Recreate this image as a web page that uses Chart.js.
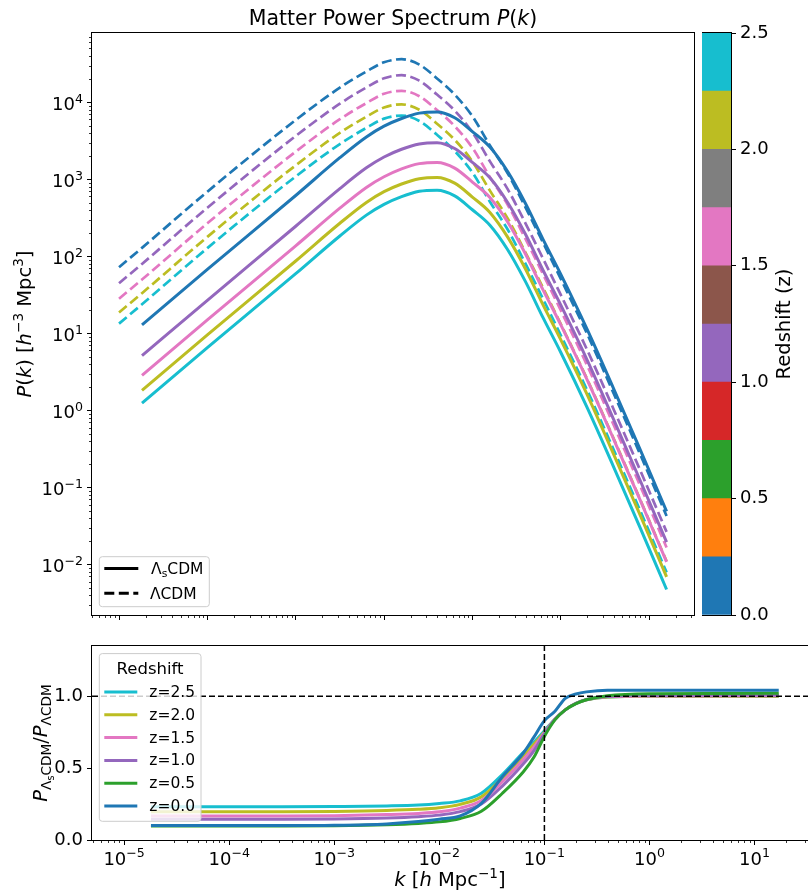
<!DOCTYPE html>
<html>
<head>
<meta charset="utf-8">
<script src="https://cdn.jsdelivr.net/npm/chart.js@4.4.0/dist/chart.umd.min.js"></script>
<style>
html, body { margin: 0; padding: 0; background: #fff; }
#wrap { position: relative; width: 808px; height: 895px; overflow: hidden; }
canvas { position: absolute; }
</style>
</head>
<body>
<div id="wrap">
  <canvas id="topChart" width="700" height="630" style="left:0px;top:0px"></canvas>
  <canvas id="cbarChart" width="106" height="630" style="left:702px;top:0px"></canvas>
  <canvas id="ratioChart" width="808" height="265" style="left:0px;top:630px"></canvas>
</div>
<script>
const FONT = "'DejaVu Sans', 'Liberation Sans', sans-serif";
Chart.defaults.font.family = FONT;
Chart.defaults.color = "#000";

// ---- top panel: P(k) ----
const kDashed = [1e-5, 1.82e-5, 1e-4, 1e-3, 3.16e-3, 6.31e-3, 0.01, 0.0158, 0.0251, 0.0398, 0.0631, 0.1, 0.158, 0.251, 0.398, 0.631, 1, 2.0, 3.98, 7.94, 15.8];
const kSolid = [1.82e-5, 1e-4, 1e-3, 3.16e-3, 6.31e-3, 0.01, 0.0158, 0.0251, 0.0398, 0.0631, 0.1, 0.158, 0.251, 0.398, 0.631, 1, 2.0, 3.98, 7.94, 15.8];
const topColors = ["#1f77b4", "#9467bd", "#e377c2", "#bcbd22", "#17becf"];

// LambdaCDM (dashed)
const lcdmBlue   = [72.4, 129, 692, 5890, 15500, 25100, 33100, 36300, 30900, 20400, 12600, 6610, 2750, 1200, 437, 151, 51.3, 9.77, 1.66, 0.269, 0.0427];
const lcdmPurple = [44.8, 79.8, 428, 3650, 9590, 15600, 20500, 22500, 19100, 12600, 7800, 4090, 1710, 745, 271, 93.5, 31.8, 6.05, 1.03, 0.167, 0.0265];
const lcdmPink   = [28.2, 50.1, 269, 2290, 6030, 9770, 12900, 14100, 12000, 7940, 4900, 2570, 1070, 468, 170, 58.7, 20.0, 3.80, 0.646, 0.105, 0.0166];
const lcdmOlive  = [18.7, 33.3, 179, 1520, 4010, 6500, 8570, 9400, 8000, 5280, 3260, 1710, 713, 311, 113, 39.1, 13.3, 2.53, 0.43, 0.0696, 0.011];
const lcdmCyan   = [13.4, 23.9, 128, 1090, 2870, 4660, 6140, 6730, 5730, 3790, 2330, 1230, 511, 223, 81.0, 28.0, 9.51, 1.81, 0.308, 0.0499, 0.0079];

// Lambda_s CDM (solid)
const lscdmBlue   = [12.9, 67.6, 617, 1910, 3550, 4900, 6170, 7240, 7500, 6310, 4170, 2630, 1260, 490, 166, 58.9, 11.2, 1.91, 0.309, 0.049];
const lscdmPurple = [5.13, 26.9, 246, 758, 1410, 1950, 2460, 2880, 2990, 2510, 1660, 1050, 501, 195, 66.1, 23.4, 4.47, 0.758, 0.123, 0.0195];
const lscdmPink   = [2.85, 15.0, 137, 422, 785, 1080, 1370, 1600, 1660, 1400, 923, 582, 279, 108, 36.7, 13.0, 2.48, 0.422, 0.0684, 0.0108];
const lscdmOlive  = [1.82, 9.55, 87.1, 269, 501, 692, 871, 1020, 1060, 892, 589, 372, 178, 69.2, 23.5, 8.32, 1.59, 0.269, 0.0437, 0.00692];
const lscdmCyan   = [1.24, 6.53, 59.6, 184, 343, 473, 596, 700, 724, 610, 403, 254, 122, 47.3, 16.0, 5.69, 1.08, 0.184, 0.0298, 0.00473];

// ---- bottom panel: ratio ----
const kRatio = [1.8e-5, 3.16e-4, 1e-3, 3.16e-3, 6.31e-3, 0.01, 0.0158, 0.0251, 0.0398, 0.0631, 0.0794, 0.1, 0.126, 0.158, 0.2, 0.251, 0.398, 1, 17];
const zRatio = ["2.5", "2.0", "1.5", "1.0", "0.5", "0.0"];
const ratioColors = ["#17becf", "#bcbd22", "#e377c2", "#9467bd", "#2ca02c", "#1f77b4"];
const ratioZ25 = [0.231, 0.231, 0.233, 0.237, 0.243, 0.254, 0.272, 0.325, 0.455, 0.61, 0.68, 0.76, 0.84, 0.905, 0.95, 0.975, 0.995, 1.0, 1.0];
const ratioZ20 = [0.197, 0.197, 0.199, 0.205, 0.213, 0.224, 0.248, 0.30, 0.43, 0.585, 0.665, 0.75, 0.84, 0.905, 0.95, 0.975, 0.995, 1.0, 1.0];
const ratioZ15 = [0.167, 0.167, 0.169, 0.177, 0.185, 0.196, 0.222, 0.275, 0.405, 0.56, 0.645, 0.745, 0.84, 0.905, 0.95, 0.975, 0.997, 1.002, 1.003];
const ratioZ10 = [0.144, 0.144, 0.146, 0.153, 0.162, 0.173, 0.197, 0.25, 0.375, 0.53, 0.62, 0.74, 0.84, 0.905, 0.95, 0.977, 0.998, 1.005, 1.008];
const ratioZ05 = [0.097, 0.097, 0.099, 0.106, 0.115, 0.126, 0.15, 0.20, 0.325, 0.475, 0.575, 0.72, 0.835, 0.905, 0.948, 0.975, 1.003, 1.017, 1.02];
const ratioZ00 = [0.100, 0.100, 0.102, 0.112, 0.128, 0.145, 0.168, 0.255, 0.44, 0.605, 0.715, 0.83, 0.895, 0.985, 1.015, 1.03, 1.042, 1.042, 1.042];
const refRatio = 1.0;
const refK = 0.1;

// ---- axes / colorbar ----
const kMin = Math.pow(10, -5.306), kMax = Math.pow(10, 1.509);
const pMin = Math.pow(10, -2.656), pMax = Math.pow(10, 4.9);
const kTicks = [1e-5, 1e-4, 1e-3, 1e-2, 1e-1, 1, 10];
const pTicks = [1e-2, 1e-1, 1, 10, 100, 1e3, 1e4];
const ratioTicks = [0, 0.5, 1.0];
const cbBounds = [0, 0.25, 0.5, 0.75, 1.0, 1.25, 1.5, 1.75, 2.0, 2.25, 2.5];
const cbColors = ["#1f77b4", "#ff7f0e", "#2ca02c", "#d62728", "#9467bd", "#8c564b", "#e377c2", "#7f7f7f", "#bcbd22", "#17becf"];
const cbTicks = [0, 0.5, 1.0, 1.5, 2.0, 2.5];

// "10" with a raised exponent, like mathtext
function drawPow(ctx, v, x, y, align, size) {
    const e = Math.round(Math.log10(v));
    const exp = (e < 0 ? "\u2212" : "") + Math.abs(e);
    ctx.save();
    ctx.fillStyle = "#000";
    ctx.textBaseline = "alphabetic";
    ctx.font = size + "px " + FONT;
    const w1 = ctx.measureText("10").width;
    ctx.font = (size * 0.7) + "px " + FONT;
    const w2 = ctx.measureText(exp).width;
    const x0 = align === "right" ? x - w1 - w2 : x - (w1 + w2) / 2;
    ctx.font = size + "px " + FONT;
    ctx.fillText("10", x0, y);
    ctx.font = (size * 0.7) + "px " + FONT;
    ctx.fillText(exp, x0 + w1, y - size * 0.42);
    ctx.restore();
}

// text with italics / super / subscripts, centred on (x, y)
function drawRich(ctx, parts, x, y, size, rotate) {
    ctx.save();
    ctx.translate(x, y);
    if (rotate) ctx.rotate(rotate);
    const base = size * 0.36;
    const pieces = parts.map(([t, st]) => {
        let s = size, dy = base;
        if (st.includes("sup")) { s = size * 0.7; dy = base - size * 0.4; }
        if (st.includes("sub")) { s = size * 0.7; dy = base + size * 0.22; }
        if (st.includes("ss")) { s = size * 0.5; dy = base + size * 0.36; }
        const font = (st.includes("i") ? "italic " : "") + s + "px " + FONT;
        ctx.font = font;
        return {t, font, dy, w: ctx.measureText(t).width};
    });
    let cx = -pieces.reduce((a, p) => a + p.w, 0) / 2;
    ctx.fillStyle = "#000";
    ctx.textBaseline = "alphabetic";
    pieces.forEach(p => { ctx.font = p.font; ctx.fillText(p.t, cx, p.dy); cx += p.w; });
    ctx.restore();
}

function roundBox(ctx, x, y, w, h, r) {
    ctx.beginPath();
    ctx.moveTo(x + r, y);
    ctx.arcTo(x + w, y, x + w, y + h, r);
    ctx.arcTo(x + w, y + h, x, y + h, r);
    ctx.arcTo(x, y + h, x, y, r);
    ctx.arcTo(x, y, x + w, y, r);
    ctx.closePath();
    ctx.fillStyle = "rgba(255,255,255,0.8)";
    ctx.fill();
    ctx.strokeStyle = "#cccccc";
    ctx.lineWidth = 1;
    ctx.stroke();
}

function drawSpines(chart) {
    const {ctx, chartArea: a} = chart;
    ctx.save();
    ctx.strokeStyle = "#000";
    ctx.lineWidth = 1;
    ctx.strokeRect(Math.round(a.left) - 0.5, Math.round(a.top) - 0.5, Math.round(a.right - a.left) + 1, Math.round(a.bottom - a.top) + 1);
    ctx.restore();
}

function minorTicks(chart, id, side) {
    const s = chart.scales[id], ctx = chart.ctx, a = chart.chartArea;
    ctx.save();
    ctx.strokeStyle = "#000";
    ctx.lineWidth = 0.8;
    for (let e = Math.floor(Math.log10(s.min)); e <= Math.ceil(Math.log10(s.max)); e++) {
        for (let m = 2; m <= 9; m++) {
            const v = m * Math.pow(10, e);
            if (v < s.min || v > s.max) continue;
            const p = Math.round(s.getPixelForValue(v)) + 0.5;
            ctx.beginPath();
            if (side === "x") { ctx.moveTo(p, a.bottom); ctx.lineTo(p, a.bottom + 3); }
            else { ctx.moveTo(a.left, p); ctx.lineTo(a.left - 3, p); }
            ctx.stroke();
        }
    }
    ctx.restore();
}

function lineSet(xs, ys, color, dashed, width) {
    return {
        data: xs.map((x, i) => ({x: x, y: ys[i]})),
        borderColor: color,
        borderWidth: width,
        borderDash: dashed ? [10, 4.5] : [],
        pointRadius: 0,
        pointHitRadius: 0,
        fill: false,
        cubicInterpolationMode: "monotone"
    };
}

function axisOpts(extra) {
    return Object.assign({
        grid: {display: true, drawOnChartArea: false, drawTicks: true, tickLength: 5, color: "#000", tickColor: "#000", tickWidth: 1},
        border: {display: false}
    }, extra);
}

// ---------- top chart ----------
const lcdmSets = [lcdmBlue, lcdmPurple, lcdmPink, lcdmOlive, lcdmCyan];
const lscdmSets = [lscdmBlue, lscdmPurple, lscdmPink, lscdmOlive, lscdmCyan];
const topDatasets = [];
lscdmSets.forEach((ys, i) => topDatasets.push(lineSet(kSolid, ys, topColors[i], false, 3)));
lcdmSets.forEach((ys, i) => topDatasets.push(lineSet(kDashed, ys, topColors[i], true, 2.7)));

const topDecor = {
    id: "topDecor",
    afterDatasetsDraw(chart) {
        const ctx = chart.ctx, a = chart.chartArea;
        drawSpines(chart);
        minorTicks(chart, "x", "x");
        minorTicks(chart, "y", "y");
        pTicks.forEach(v => drawPow(ctx, v, a.left - 9, chart.scales.y.getPixelForValue(v) + 8, "right", 18));
        // legend
        const lx = a.left + 7.3, ly = a.bottom - 58.3;
        roundBox(ctx, lx, ly, 110, 50, 3);
        ctx.save();
        ctx.strokeStyle = "#000";
        ctx.lineWidth = 3;
        ctx.beginPath(); ctx.moveTo(lx + 5, ly + 11.8); ctx.lineTo(lx + 39, ly + 11.8); ctx.stroke();
        ctx.setLineDash([10, 4.5]);
        ctx.beginPath(); ctx.moveTo(lx + 5, ly + 36.6); ctx.lineTo(lx + 39, ly + 36.6); ctx.stroke();
        ctx.restore();
        drawRich(ctx, [["\u039b", ""], ["s", "sub"], ["CDM", ""]], lx + 78, ly + 11.8, 15.5);
        drawRich(ctx, [["\u039bCDM", ""]], lx + 74, ly + 36.6, 15.5);
        // title and y label
        drawRich(ctx, [["Matter Power Spectrum ", ""], ["P", "i"], ["(", ""], ["k", "i"], [")", ""]], (a.left + a.right) / 2, 18, 20.5);
        drawRich(ctx, [["P", "i"], ["(", ""], ["k", "i"], [")", ""], [" [", ""], ["h", "i"], ["\u22123", "sup"], [" Mpc", ""], ["3", "sup"], ["]", ""]],
            24, (a.top + a.bottom) / 2, 19.5, -Math.PI / 2);
    }
};

new Chart(document.getElementById("topChart"), {
    type: "line",
    data: {datasets: topDatasets},
    options: {
        responsive: false,
        animation: false,
        layout: {padding: {left: 0, right: 6, top: 33, bottom: 0}},
        plugins: {legend: {display: false}, tooltip: {enabled: false}},
        scales: {
            x: axisOpts({
                type: "logarithmic", min: kMin, max: kMax,
                afterBuildTicks: s => { s.ticks = kTicks.map(v => ({value: v})); },
                afterFit: s => { s.height = 15; },
                ticks: {display: false}
            }),
            y: axisOpts({
                type: "logarithmic", min: pMin, max: pMax,
                afterBuildTicks: s => { s.ticks = pTicks.map(v => ({value: v})); },
                afterFit: s => { s.width = 92; },
                ticks: {display: false}
            })
        }
    },
    plugins: [topDecor]
});

// ---------- colour bar ----------
const cbDecor = {
    id: "cbDecor",
    afterDatasetsDraw(chart) {
        drawSpines(chart);
        drawRich(chart.ctx, [["Redshift (z)", ""]], 81, (chart.chartArea.top + chart.chartArea.bottom) / 2, 19.5, -Math.PI / 2);
    }
};

new Chart(document.getElementById("cbarChart"), {
    type: "bar",
    data: {
        labels: ["z"],
        datasets: cbColors.map((c, i) => ({
            data: [[cbBounds[i], cbBounds[i + 1]]],
            backgroundColor: c,
            borderWidth: 0,
            categoryPercentage: 1,
            barPercentage: 1,
            grouped: false
        }))
    },
    options: {
        responsive: false,
        animation: false,
        layout: {padding: {left: 0, right: 0, top: 33, bottom: 15}},
        plugins: {legend: {display: false}, tooltip: {enabled: false}},
        scales: {
            x: {display: false},
            y: axisOpts({
                position: "right", min: 0, max: 2.5,
                afterBuildTicks: s => { s.ticks = cbTicks.map(v => ({value: v})); },
                afterFit: s => { s.width = 77; },
                ticks: {callback: v => v.toFixed(1), font: {size: 18}, padding: 4, autoSkip: false}
            })
        }
    },
    plugins: [cbDecor]
});

// ---------- ratio chart ----------
const ratioSets = [ratioZ25, ratioZ20, ratioZ15, ratioZ10, ratioZ05, ratioZ00];
const ratioDatasets = ratioSets.map((ys, i) => Object.assign(lineSet(kRatio, ys, ratioColors[i], false, 3), {order: -i}));
ratioDatasets.push(Object.assign(lineSet([kMin, kMax], [refRatio, refRatio], "#000", false, 1.5), {borderDash: [6, 3], order: -10, cubicInterpolationMode: "default"}));
ratioDatasets.push(Object.assign(lineSet([refK, refK], [0, 1.349], "#000", false, 1.5), {borderDash: [6, 3], order: -11, cubicInterpolationMode: "default"}));

const ratioDecor = {
    id: "ratioDecor",
    afterDatasetsDraw(chart) {
        const ctx = chart.ctx, a = chart.chartArea;
        drawSpines(chart);
        minorTicks(chart, "x", "x");
        kTicks.forEach(v => drawPow(ctx, v, chart.scales.x.getPixelForValue(v), a.bottom + 24.5, "center", 18));
        // legend
        const lx = a.left + 7.3, ly = a.top + 7.6;
        roundBox(ctx, lx, ly, 101.7, 167.7, 3);
        drawRich(ctx, [["Redshift", ""]], lx + 50.8, ly + 14.7, 16.5);
        zRatio.forEach((z, i) => {
            const y = ly + 38.4 + i * 22.8;
            ctx.save();
            ctx.strokeStyle = ratioColors[i];
            ctx.lineWidth = 3;
            ctx.beginPath(); ctx.moveTo(lx + 5, y); ctx.lineTo(lx + 38, y); ctx.stroke();
            ctx.restore();
            ctx.save();
            ctx.font = "15.5px " + FONT;
            ctx.fillStyle = "#000";
            ctx.textBaseline = "middle";
            ctx.fillText("z=" + z, lx + 50, y + 1);
            ctx.restore();
        });
        drawRich(ctx, [["k", "i"], [" [", ""], ["h", "i"], [" Mpc", ""], ["\u22121", "sup"], ["]", ""]], (a.left + a.right) / 2, 249, 19.5);
        drawRich(ctx, [["P", "i"], ["\u039b", "sub"], ["s", "ss"], ["CDM", "sub"], ["/", ""], ["P", "i"], ["\u039bCDM", "sub"]],
            40, (a.top + a.bottom) / 2, 19.5, -Math.PI / 2);
    }
};

new Chart(document.getElementById("ratioChart"), {
    type: "line",
    data: {datasets: ratioDatasets},
    options: {
        responsive: false,
        animation: false,
        layout: {padding: {left: 0, right: 0, top: 16, bottom: 0}},
        plugins: {legend: {display: false}, tooltip: {enabled: false}},
        scales: {
            x: axisOpts({
                type: "logarithmic", min: kMin, max: kMax,
                afterBuildTicks: s => { s.ticks = kTicks.map(v => ({value: v})); },
                afterFit: s => { s.height = 55; },
                ticks: {display: false}
            }),
            y: axisOpts({
                min: 0, max: 1.349,
                afterBuildTicks: s => { s.ticks = ratioTicks.map(v => ({value: v})); },
                afterFit: s => { s.width = 92; },
                ticks: {callback: v => v.toFixed(1), font: {size: 18}, padding: 4, autoSkip: false}
            })
        }
    },
    plugins: [ratioDecor]
});
</script>
</body>
</html>
